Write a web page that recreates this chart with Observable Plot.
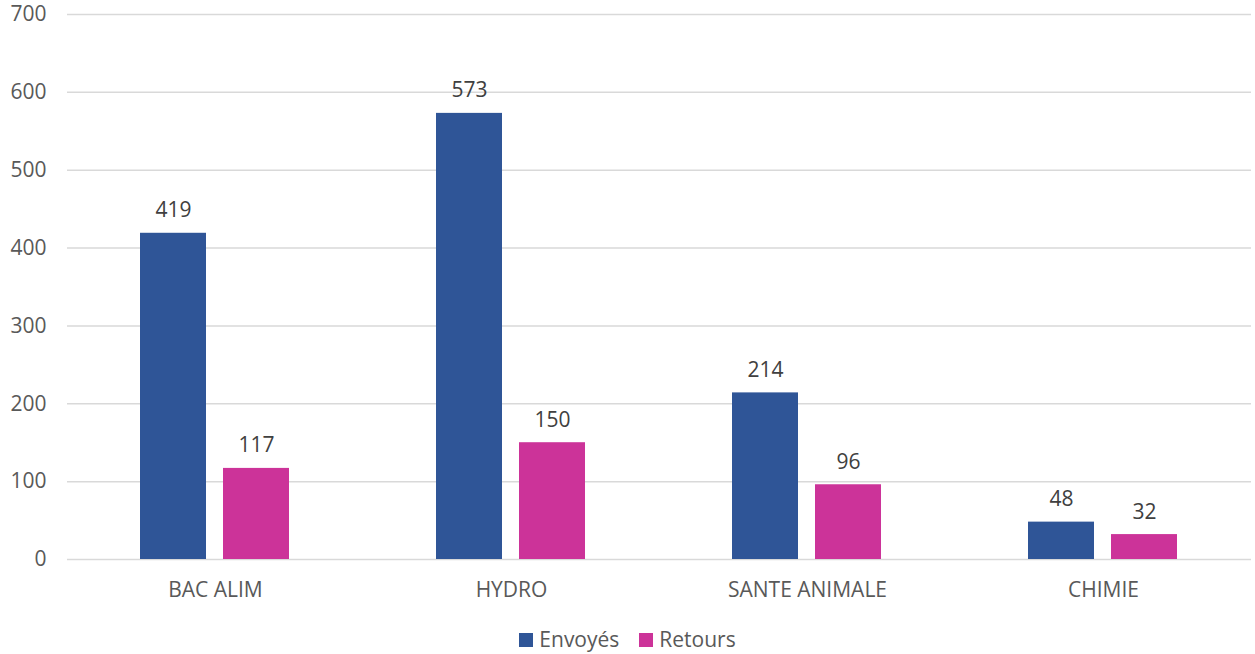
<!DOCTYPE html>
<html>
<head>
<meta charset="utf-8">
<script src="https://cdn.jsdelivr.net/npm/d3@7"></script>
<script src="https://cdn.jsdelivr.net/npm/@observablehq/plot@0.6"></script>
<style>
  html, body { margin: 0; padding: 0; background: #fff; overflow: hidden; }
  #legend { display: flex; justify-content: center; align-items: center; height: 29px; line-height: 29px; font-family: "Open Sans", sans-serif; font-size: 21px; color: #595959; }
  .item { display: flex; align-items: center; margin: 0 10px; }
  .sw { width: 14px; height: 14px; margin-right: 6px; }
</style>
</head>
<body>
<div id="chart"></div>
<div id="legend"></div>
<script>
const categories = ["BAC ALIM", "HYDRO", "SANTE ANIMALE", "CHIMIE"];
const series = ["Envoyés", "Retours"];
const envoyes = [419, 573, 214, 48];
const retours = [117, 150, 96, 32];
const yTicks = [0, 100, 200, 300, 400, 500, 600, 700];
const colors = ["#2F5597", "#CC3399"];

const values = [envoyes, retours];
const rows = [];
categories.forEach((c, i) => {
  series.forEach((s, j) => rows.push({cat: c, series: s, value: values[j][i]}));
});

const chart = Plot.plot({
  width: 1255,
  height: 625,
  marginLeft: 65,
  marginRight: 3,
  marginTop: 14,
  marginBottom: 66,
  style: {fontFamily: "Open Sans, sans-serif", fontSize: "21px", color: "#595959", background: "#fff", display: "block"},
  fx: {domain: categories, padding: 0, label: null},
  x: {domain: series, paddingInner: 0.2, paddingOuter: 0.87, axis: null},
  y: {domain: [0, 700], label: null},
  color: {domain: series, range: colors},
  marks: [
    Plot.gridY(yTicks, {stroke: "#d9d9d9", strokeOpacity: 1, strokeWidth: 1.5}),
    Plot.axisY(yTicks, {tickSize: 0, tickPadding: 21, label: null, fill: "#595959", fontSize: 21}),
    Plot.axisFx({anchor: "bottom", tickSize: 0, tickPadding: 23, label: null, fill: "#595959", fontSize: 21}),
    Plot.barY(rows, {fx: "cat", x: "series", y: "value", fill: "series"}),
    Plot.text(rows, {fx: "cat", x: "series", y: "value", text: d => String(d.value), lineAnchor: "bottom", dy: -16, fill: "#404040", fontSize: 21})
  ]
});
document.getElementById("chart").appendChild(chart);

const legend = document.getElementById("legend");
series.forEach((s, i) => {
  const item = document.createElement("div");
  item.className = "item";
  const sw = document.createElement("div");
  sw.className = "sw";
  sw.style.background = colors[i];
  const t = document.createElement("span");
  t.textContent = s;
  item.appendChild(sw);
  item.appendChild(t);
  legend.appendChild(item);
});
</script>
</body>
</html>
